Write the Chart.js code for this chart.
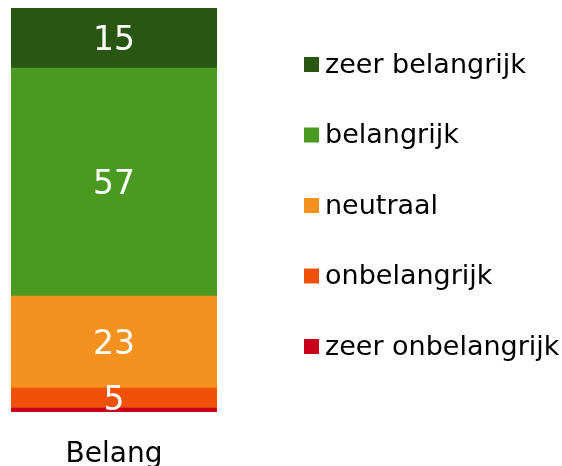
<!DOCTYPE html>
<html lang="nl">
<head>
    <meta charset="UTF-8">
    <title>Belang</title>
    <script src="https://cdn.jsdelivr.net/npm/chart.js"></script>
    <style>
        html, body {
            margin: 0;
            padding: 0;
            background: #ffffff;
        }
        #chart-container {
            position: relative;
            width: 562px;
            height: 466px;
        }
    </style>
</head>
<body>
    <div id="chart-container">
        <canvas id="belang-chart"></canvas>
    </div>

    <script>
        // data
        const categories = ['Belang'];
        const seriesNames = ['zeer onbelangrijk', 'onbelangrijk', 'neutraal', 'belangrijk', 'zeer belangrijk'];
        const zeerOnbelangrijk = [1];
        const onbelangrijk = [5];
        const neutraal = [23];
        const belangrijk = [57];
        const zeerBelangrijk = [15];
        const seriesColors = ['#c8001c', '#f05008', '#f5911e', '#4a9920', '#295712'];

        const seriesValues = [zeerOnbelangrijk, onbelangrijk, neutraal, belangrijk, zeerBelangrijk];
        const total = seriesValues.reduce((s, v) => s + v[0], 0);

        const fontFamily = '"DejaVu Sans", Verdana, sans-serif';

        // white numbers in the middle of each segment
        const valueLabels = {
            id: 'valueLabels',
            afterDatasetsDraw(chart) {
                const ctx = chart.ctx;
                ctx.save();
                ctx.fillStyle = '#ffffff';
                ctx.font = '33px ' + fontFamily;
                ctx.textAlign = 'center';
                ctx.textBaseline = 'middle';
                chart.data.datasets.forEach((ds, i) => {
                    const meta = chart.getDatasetMeta(i);
                    meta.data.forEach((bar, j) => {
                        const v = ds.data[j];
                        if (v < 5) return;
                        ctx.fillText(String(v), bar.x, (bar.y + bar.base) / 2 + 3);
                    });
                });
                ctx.restore();
            }
        };

        // legend on the right, top item = last dataset
        const sideLegend = {
            id: 'sideLegend',
            afterDraw(chart) {
                const ctx = chart.ctx;
                const n = chart.data.datasets.length;
                const step = 70.5;
                const midY = 205.5;
                ctx.save();
                ctx.font = '27px ' + fontFamily;
                ctx.textBaseline = 'middle';
                ctx.textAlign = 'left';
                for (let k = 0; k < n; k++) {
                    const ds = chart.data.datasets[n - 1 - k];
                    const y = midY + (k - (n - 1) / 2) * step;
                    ctx.fillStyle = ds.backgroundColor;
                    ctx.fillRect(304, y - 7.5, 15, 15);
                    ctx.fillStyle = '#000000';
                    ctx.fillText(ds.label, 325, y + 1);
                }
                ctx.restore();
            }
        };

        const ctx = document.getElementById('belang-chart').getContext('2d');
        new Chart(ctx, {
            type: 'bar',
            data: {
                labels: categories,
                datasets: seriesNames.map((name, i) => ({
                    label: name,
                    data: seriesValues[i],
                    backgroundColor: seriesColors[i],
                    borderWidth: 0,
                    barPercentage: 1,
                    categoryPercentage: 1
                }))
            },
            options: {
                responsive: true,
                maintainAspectRatio: false,
                animation: false,
                layout: {
                    padding: { left: 11, top: 8, right: 345, bottom: 0 }
                },
                plugins: {
                    legend: { display: false },
                    tooltip: { enabled: false }
                },
                scales: {
                    x: {
                        stacked: true,
                        grid: { display: false, drawTicks: false },
                        border: { display: false },
                        ticks: {
                            color: '#000000',
                            padding: 26,
                            font: { family: fontFamily, size: 28 }
                        },
                        afterFit: (axis) => { axis.height = 54; }
                    },
                    y: {
                        stacked: true,
                        display: false,
                        min: 0,
                        max: total
                    }
                }
            },
            plugins: [valueLabels, sideLegend]
        });
    </script>
</body>
</html>
